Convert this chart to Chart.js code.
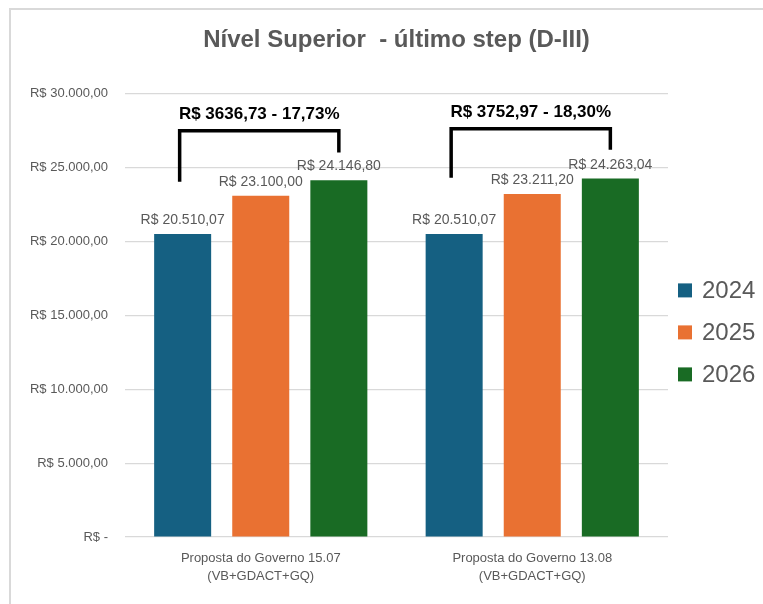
<!DOCTYPE html>
<html>
<head>
<meta charset="utf-8">
<script src="https://cdn.jsdelivr.net/npm/chart.js@4.4.1/dist/chart.umd.min.js"></script>
<style>
  html, body { margin: 0; padding: 0; background: #fff; }
  #wrap { position: relative; width: 763px; height: 604px; overflow: hidden; }
  #frame {
    position: absolute; left: 9px; top: 8px; width: 770px; height: 610px;
    border-left: 2px solid #d9d9d9; border-top: 2px solid #d9d9d9;
    pointer-events: none;
  }
</style>
</head>
<body>
<div id="wrap">
  <canvas id="myChart" width="763" height="604"></canvas>
  <div id="frame"></div>
</div>
<script>
const categories = [
    ['Proposta do Governo 15.07', '(VB+GDACT+GQ)'],
    ['Proposta do Governo 13.08', '(VB+GDACT+GQ)']
];
const seriesNames = ['2024', '2025', '2026'];
const values2024 = [20510.07, 20510.07];
const values2025 = [23100.00, 23211.20];
const values2026 = [24146.80, 24263.04];
const seriesColors = ['#156082', '#E97132', '#196B24'];

// brackets over each group: label, top, left leg bottom, right leg bottom, label height (R$)
const bracketLabels = ['R$ 3636,73 - 17,73%', 'R$ 3752,97 - 18,30%'];
const bracketTop = [27500, 27640];
const bracketLeftEnd = [24050, 24320];
const bracketRightEnd = [26020, 26220];
const bracketTextAt = [28600, 28760];

const grey = '#595959';

function brl(v) {
    if (v === 0) return 'R$ -';
    const parts = Number(v).toFixed(2).split('.');
    return 'R$ ' + parts[0].replace(/\B(?=(\d{3})+(?!\d))/g, '.') + ',' + parts[1];
}

const valueLabels = {
    id: 'valueLabels',
    afterDatasetsDraw(chart) {
        const ctx = chart.ctx;
        ctx.save();
        ctx.font = '14px "Liberation Sans", Arial, sans-serif';
        ctx.fillStyle = grey;
        ctx.textAlign = 'center';
        ctx.textBaseline = 'alphabetic';
        chart.data.datasets.forEach((ds, i) => {
            chart.getDatasetMeta(i).data.forEach((bar, j) => {
                ctx.fillText(brl(ds.data[j]), bar.x, bar.y - 10);
            });
        });
        ctx.restore();
    }
};

const brackets = {
    id: 'brackets',
    afterDatasetsDraw(chart) {
        const ctx = chart.ctx;
        const y = chart.scales.y;
        const first = chart.getDatasetMeta(0).data;
        const last = chart.getDatasetMeta(2).data;
        ctx.save();
        bracketLabels.forEach((label, i) => {
            const x1 = first[i].x - 3;
            const x2 = last[i].x;
            const yt = y.getPixelForValue(bracketTop[i]);
            ctx.strokeStyle = '#000';
            ctx.lineWidth = 3.5;
            ctx.lineJoin = 'miter';
            ctx.beginPath();
            ctx.moveTo(x1, y.getPixelForValue(bracketLeftEnd[i]));
            ctx.lineTo(x1, yt);
            ctx.lineTo(x2, yt);
            ctx.lineTo(x2, y.getPixelForValue(bracketRightEnd[i]));
            ctx.stroke();
            ctx.font = 'bold 17px "Liberation Sans", Arial, sans-serif';
            ctx.fillStyle = '#000';
            ctx.textAlign = 'center';
            ctx.textBaseline = 'middle';
            ctx.fillText(label, (x1 + x2) / 2, y.getPixelForValue(bracketTextAt[i]));
        });
        ctx.restore();
    }
};

const sideLegend = {
    id: 'sideLegend',
    afterDraw(chart) {
        const ctx = chart.ctx;
        const area = chart.chartArea;
        const x = area.right + 10;
        const mid = (area.top + area.bottom) / 2 + 17;
        const step = 42;
        ctx.save();
        ctx.font = '24px "Liberation Sans", Arial, sans-serif';
        ctx.textBaseline = 'middle';
        ctx.textAlign = 'left';
        chart.data.datasets.forEach((ds, i) => {
            const cy = mid + (i - 1) * step;
            ctx.fillStyle = ds.backgroundColor;
            ctx.fillRect(x, cy - 7, 14, 14);
            ctx.fillStyle = grey;
            ctx.fillText(ds.label, x + 24, cy + 1);
        });
        ctx.restore();
    }
};

const ctx = document.getElementById('myChart').getContext('2d');
new Chart(ctx, {
    type: 'bar',
    data: {
        labels: categories,
        datasets: [values2024, values2025, values2026].map((vals, i) => ({
            label: seriesNames[i],
            data: vals,
            backgroundColor: seriesColors[i],
            categoryPercentage: 0.863,
            barPercentage: 0.73
        }))
    },
    options: {
        responsive: false,
        animation: false,
        devicePixelRatio: 1,
        layout: { padding: { left: 16, right: 95, top: 0, bottom: 0 } },
        plugins: {
            legend: { display: false },
            tooltip: { enabled: false },
            title: {
                display: true,
                fullSize: false,
                text: 'Nível Superior  - último step (D-III)',
                color: grey,
                font: { family: '"Liberation Sans", Arial, sans-serif', size: 24, weight: 'bold', lineHeight: 1.2 },
                padding: { top: 26, bottom: 39 }
            }
        },
        scales: {
            x: {
                grid: { display: false },
                border: { display: false },
                ticks: {
                    color: grey,
                    padding: 4,
                    font: { family: '"Liberation Sans", Arial, sans-serif', size: 13, lineHeight: 1.4 }
                },
                afterFit(scale) { scale.height = 67; }
            },
            y: {
                min: 0,
                max: 30000,
                grid: { color: '#d9d9d9', lineWidth: 1.2, drawTicks: false },
                border: { display: false },
                ticks: {
                    stepSize: 5000,
                    color: grey,
                    padding: 17,
                    font: { family: '"Liberation Sans", Arial, sans-serif', size: 13 },
                    callback: function(value) { return brl(value); }
                },
                afterFit(scale) { scale.width = 109; }
            }
        }
    },
    plugins: [valueLabels, brackets, sideLegend]
});
</script>
</body>
</html>
